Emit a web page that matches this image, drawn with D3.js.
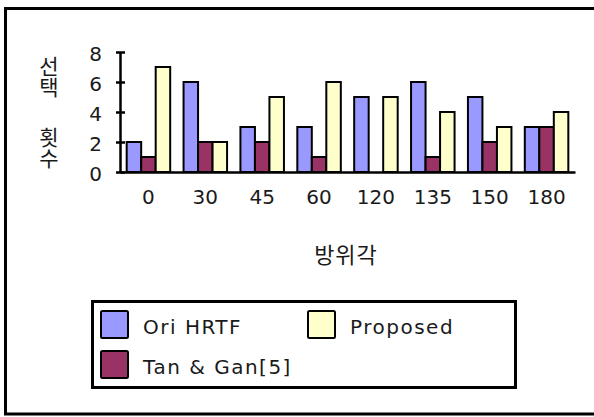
<!DOCTYPE html>
<html>
<head>
<meta charset="utf-8">
<script src="https://cdn.jsdelivr.net/npm/d3@7"></script>
<style>
  html, body { margin: 0; padding: 0; background: #fff; }
  svg { display: block; }
  text { font-family: "DejaVu Sans", "Noto Sans CJK KR", sans-serif; fill: #1a1a1a; }
  .vtitle { writing-mode: vertical-rl; text-orientation: upright; }
</style>
</head>
<body>
<svg id="chart" width="594" height="417"></svg>
<script>
// Azimuth angles (degrees) and how many times each method was chosen
const categories = ["0", "30", "45", "60", "120", "135", "150", "180"];
const seriesNames = ["Ori HRTF", "Tan & Gan[5]", "Proposed"];
const oriHRTF  = [2, 6, 3, 3, 5, 6, 5, 3];
const tanGan   = [1, 2, 2, 1, 0, 1, 2, 3];
const proposed = [7, 2, 5, 6, 5, 4, 3, 4];
const seriesColors = ["#9999FF", "#993366", "#FFFFCC"];
const yTicks = [0, 2, 4, 6, 8];
const xTitle = "방위각";
const yTitleWords = ["선택", "횟수"];

const series = [oriHRTF, tanGan, proposed];
const svg = d3.select("#chart");

// outer frame (right edge runs past the view)
svg.append("rect")
  .attr("x", 5.5).attr("y", 8.5).attr("width", 620).attr("height", 405.5)
  .attr("fill", "none").attr("stroke", "#000").attr("stroke-width", 3);

const plot = { left: 120, right: 575, top: 52, bottom: 172 };

const x0 = d3.scaleBand().domain(categories).range([plot.left, plot.right]).paddingInner(0.235).paddingOuter(0.1175);
const x1 = d3.scaleBand().domain(d3.range(series.length)).range([0, x0.bandwidth()]);
const y = d3.scaleLinear().domain([0, 8]).range([plot.bottom, plot.top]);

// bars
const groups = svg.append("g").selectAll("g")
  .data(categories)
  .join("g")
  .attr("transform", d => `translate(${x0(d)},0)`);

groups.selectAll("rect")
  .data((d, i) => series.map((s, k) => ({ k, v: s[i] })).filter(e => e.v > 0))
  .join("rect")
  .attr("x", d => x1(d.k))
  .attr("y", d => y(d.v))
  .attr("width", x1.bandwidth())
  .attr("height", d => y(0) - y(d.v))
  .attr("fill", d => seriesColors[d.k])
  .attr("stroke", "#000")
  .attr("stroke-width", 2);

// y axis
const yAxis = svg.append("g")
  .attr("transform", `translate(${plot.left},0)`)
  .call(d3.axisLeft(y).tickValues(yTicks).tickSize(0).tickPadding(18));
yAxis.select(".domain").attr("stroke", "#000").attr("stroke-width", 2.5);
yAxis.selectAll(".tick text").attr("font-size", 20).attr("dy", "0.42em")
  .attr("font-family", "'DejaVu Sans', sans-serif");
yAxis.selectAll(".tick").append("line")
  .attr("x1", -4).attr("x2", 5).attr("stroke", "#000").attr("stroke-width", 2.5);

// x axis
const xAxis = svg.append("g")
  .attr("transform", `translate(0,${plot.bottom})`)
  .call(d3.axisBottom(x0).tickSize(0).tickPadding(18));
xAxis.select(".domain").attr("stroke", "#000").attr("stroke-width", 2.5);
xAxis.selectAll(".tick text").attr("font-size", 20)
  .attr("font-family", "'DejaVu Sans', sans-serif");

// x title
svg.append("text")
  .attr("x", 346).attr("y", 263)
  .attr("text-anchor", "middle")
  .attr("font-size", 22)
  .attr("letter-spacing", 1)
  .attr("font-family", "'Noto Sans CJK KR', sans-serif")
  .text(xTitle);

// y title, written top to bottom in two words
svg.append("g").selectAll("text")
  .data(yTitleWords)
  .join("text")
  .attr("class", "vtitle")
  .attr("x", 47)
  .attr("y", (d, i) => i === 0 ? 56 : 127)
  .attr("font-size", 21)
  .attr("letter-spacing", 0)
  .attr("font-family", "'Noto Sans CJK KR', sans-serif")
  .text(d => d);

// legend
const legend = svg.append("g");
legend.append("rect")
  .attr("x", 92.5).attr("y", 301.5).attr("width", 423).attr("height", 86)
  .attr("fill", "none").attr("stroke", "#000").attr("stroke-width", 3);

const legendItems = [
  { k: 0, x: 101, y: 311 },
  { k: 2, x: 308, y: 311 },
  { k: 1, x: 101, y: 351 }
];
const li = legend.selectAll("g.item").data(legendItems).join("g").attr("class", "item")
  .attr("transform", d => `translate(${d.x},${d.y})`);
li.append("rect")
  .attr("width", 27).attr("height", 27).attr("rx", 1.5)
  .attr("fill", d => seriesColors[d.k])
  .attr("stroke", "#000").attr("stroke-width", 2);
li.append("text")
  .attr("x", 42).attr("y", 23)
  .attr("font-size", 20)
  .attr("letter-spacing", 1.5)
  .text(d => seriesNames[d.k]);
</script>
</body>
</html>
